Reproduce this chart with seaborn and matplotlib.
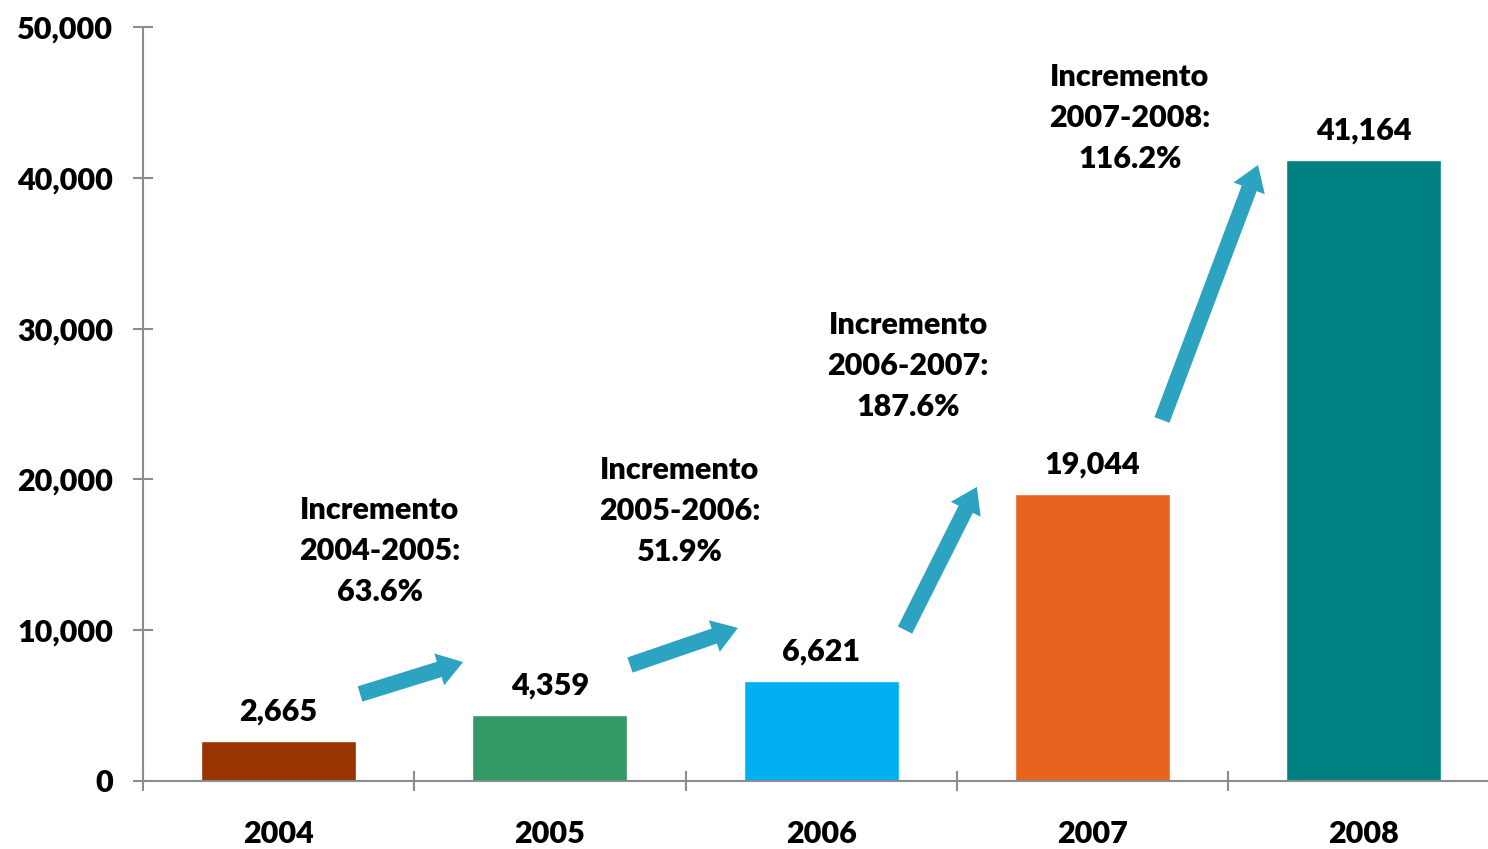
import matplotlib
matplotlib.use("Agg")
import matplotlib.pyplot as plt
import seaborn as sns
import pandas as pd

# data
years = ["2004", "2005", "2006", "2007", "2008"]
values = [2665, 4359, 6621, 19044, 41164]
bar_colors = ["#993300", "#339966", "#00B0F0", "#E8641E", "#008080"]
increments = ["63.6%", "51.9%", "187.6%", "116.2%"]
yticks = [0, 10000, 20000, 30000, 40000, 50000]

# arrow tail / tip and text block centres (data coords)
arrow_tails = [(0.30, 5770), (1.295, 7690), (2.309, 10010), (3.256, 23940)]
arrow_tips = [(0.68, 7890), (1.693, 10150), (2.574, 19500), (3.61, 40850)]
text_pos = [(0.373, 15250), (1.479, 17900), (2.32, 27520), (3.138, 43970)]

sns.set_style("white")
plt.rcParams["font.family"] = ["Lato", "DejaVu Sans"]
plt.rcParams["text.color"] = "black"

fs = 22
fw = "heavy"
arrow_color = "#2CA4C1"
axis_gray = "#8C8C8C"

df = pd.DataFrame({"year": years, "value": values})

fig = plt.figure(figsize=(14.88, 8.49), dpi=100)
ax = fig.add_axes([0.0961, 0.0801, 0.9116, 0.8881])

sns.barplot(data=df, x="year", y="value", hue="year", palette=bar_colors,
            legend=False, width=0.571, saturation=1, ax=ax)

for c in ax.containers:
    ax.bar_label(c, labels=[f"{v:,.0f}" for v in c.datavalues], padding=11,
                 fontsize=fs, fontweight=fw, color="black")

for i, inc in enumerate(increments):
    txt = f"Incremento\n{years[i]}-{years[i + 1]}:\n{inc}"
    ax.text(text_pos[i][0], text_pos[i][1], txt, ha="center", va="center",
            fontsize=fs, fontweight=fw, linespacing=1.55, color="black")
    ax.annotate("", xy=arrow_tips[i], xytext=arrow_tails[i],
                arrowprops=dict(arrowstyle="simple,head_width=2.4,head_length=1.8,tail_width=1.15",
                                mutation_scale=10, color=arrow_color, lw=0,
                                shrinkA=0, shrinkB=0))

ax.set_xlim(-0.5, 4.5)
ax.set_ylim(0, 50000)
ax.set_yticks(yticks)
ax.set_yticklabels([f"{t:,}" for t in yticks])
ax.set_xlabel("")
ax.set_ylabel("")

ax.set_xticks([i - 0.5 for i in range(len(years) + 1)], minor=True)
ax.tick_params(axis="x", which="major", bottom=True, length=0, pad=28,
               labelsize=fs, labelcolor="black")
ax.tick_params(axis="x", which="minor", bottom=True, direction="inout", length=15,
               width=1.5, color=axis_gray)
ax.tick_params(axis="y", left=True, direction="inout", length=15, width=1.5,
               color=axis_gray, pad=14, labelsize=fs, labelcolor="black")
for lab in ax.get_xticklabels() + ax.get_yticklabels():
    lab.set_fontweight(fw)

for s in ["top", "right"]:
    ax.spines[s].set_visible(False)
for s in ["left", "bottom"]:
    ax.spines[s].set_color(axis_gray)
    ax.spines[s].set_linewidth(1.5)

fig.savefig("out.png", dpi=100)
